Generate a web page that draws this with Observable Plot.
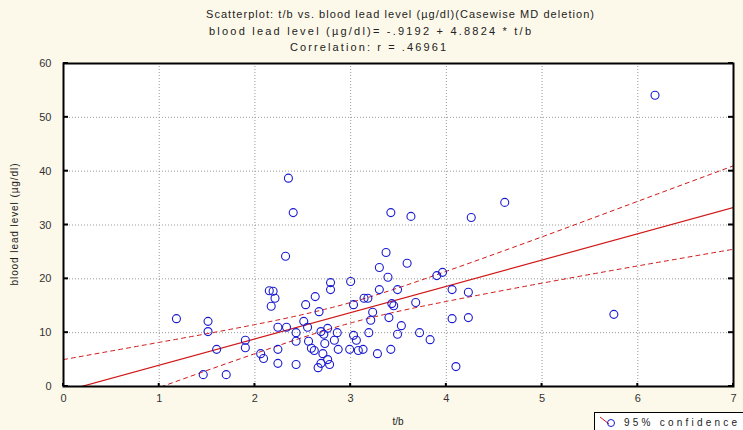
<!DOCTYPE html>
<html><head><meta charset="utf-8">
<script src="https://cdn.jsdelivr.net/npm/d3@7"></script>
<script src="https://cdn.jsdelivr.net/npm/@observablehq/plot@0.6"></script>
<style>
html,body{margin:0;padding:0;background:#fdf9ea;overflow:hidden;}
#chart svg{display:block;}
</style></head><body><div id="chart"></div>
<script>
// t/b values and blood lead levels (µg/dl)
const tb = [6.18,5.75,4.61,4.26,3.63,3.42,2.40,2.35,2.32,3.37,3.59,3.90,3.96,4.10,4.06,4.23,4.06,4.23,3.68,3.72,3.83,3.30,3.39,2.79,2.79,3.00,2.15,2.19,2.21,2.17,2.63,2.53,2.67,3.30,3.49,3.14,3.18,3.03,3.23,3.21,3.40,3.43,3.45,3.53,3.49,2.51,2.24,2.33,2.43,2.55,2.69,2.76,2.86,2.72,2.43,2.56,2.73,2.83,3.03,3.06,3.19,2.24,2.06,2.09,2.59,2.62,2.71,2.87,2.99,3.08,3.13,3.28,3.42,2.76,2.69,2.78,2.66,2.24,2.43,1.18,1.51,1.51,1.60,1.90,1.90,1.46,1.70];
const lead = [54.1,13.4,34.2,31.4,31.6,32.3,32.3,38.7,24.2,24.9,22.9,20.6,21.2,3.7,18.0,17.5,12.6,12.8,15.6,10.0,8.7,22.1,20.3,19.3,18.0,19.5,17.8,17.7,16.4,14.9,16.7,15.2,13.9,18.0,18.0,16.4,16.4,15.2,13.8,12.3,12.8,15.4,15.0,11.3,9.7,12.1,11.0,11.0,10.0,11.0,10.2,10.8,10.0,9.7,8.4,8.4,8.0,8.6,9.5,8.6,10.0,6.9,6.1,5.2,7.1,6.7,6.1,6.9,6.9,6.7,6.9,6.1,6.9,5.0,4.3,4.1,3.5,4.3,4.1,12.6,12.1,10.2,6.9,8.6,7.2,2.2,2.2];

// regression equation from the chart title
const intercept = -0.9192;
const slope = 4.8824;

// 95% confidence bounds at each integer t/b
const bandX = [0,1,2,3,4,5,6,7];
const bandUpper = [5.0,8.2,11.5,15.6,21.4,27.8,34.4,41.0];
const bandLower = [-6.8,-0.2,6.1,11.8,15.8,19.2,22.4,25.5];

const xTicks = [0,1,2,3,4,5,6,7];
const yTicks = [0,10,20,30,40,50,60];
const xGrid = [1,2,3,4,5,6];
const yGrid = [10,20,30,40,50];
const xDomain = [0,7];
const yDomain = [0,60];

const titleLines = [
  "Scatterplot: t/b vs. blood lead level (µg/dl)(Casewise MD deletion)",
  "blood lead level (µg/dl)= -.9192 + 4.8824 * t/b",
  "Correlation: r = .46961"
];
const xLabel = "t/b";
const yLabel = "blood lead level (µg/dl)";
const legendLabel = "95% confidence";

const points = tb.map((t, i) => ({t, lead: lead[i]}));
const fit = xDomain.map(t => ({t, y: intercept + slope * t}));
const band = bandX.map((t, i) => ({t, hi: bandUpper[i], lo: bandLower[i]}));

const font = "'Liberation Sans', Arial, sans-serif";
const red = "#d01818";
const blue = "#1a1ad0";

const chart = Plot.plot({
  width: 743,
  height: 430,
  marginLeft: 63,
  marginRight: 10,
  marginTop: 63,
  marginBottom: 44,
  style: {background: "#fdf9ea", fontFamily: font, fontSize: "11px", overflow: "visible"},
  x: {domain: xDomain, ticks: xTicks, label: null, tickFormat: "d"},
  y: {domain: yDomain, ticks: yTicks, label: null, tickFormat: "d"},
  marks: [
    Plot.frame({fill: "white"}),
    Plot.gridX(xGrid, {stroke: "#999", strokeOpacity: 1, strokeDasharray: "1,2"}),
    Plot.gridY(yGrid, {stroke: "#999", strokeOpacity: 1, strokeDasharray: "1,2"}),
    Plot.line(band, {x: "t", y: "hi", curve: "natural", stroke: red, strokeWidth: 1, strokeDasharray: "4,4", clip: true}),
    Plot.line(band, {x: "t", y: "lo", curve: "natural", stroke: red, strokeWidth: 1, strokeDasharray: "4,4", clip: true}),
    Plot.line(fit, {x: "t", y: "y", stroke: red, strokeWidth: 1.2, clip: true}),
    Plot.dot(points, {x: "t", y: "lead", r: 4, stroke: blue, strokeWidth: 1.1, fill: "none"}),
    Plot.frame({stroke: "black", strokeWidth: 2}),
    Plot.axisX({ticks: xTicks, tickSize: 0, tickPadding: 8, fill: "#333", label: null, tickFormat: "d"}),
    Plot.axisY({ticks: yTicks, tickSize: 0, tickPadding: 12, fill: "#333", label: null, tickFormat: "d"})
  ]
});

document.getElementById("chart").appendChild(chart);

const svg = d3.select(chart);
const xs = chart.scale("x"), ys = chart.scale("y");
const pxLeft = xs.apply(xDomain[0]), pxRight = xs.apply(xDomain[1]);
const pxBottom = ys.apply(yDomain[0]), pxTop = ys.apply(yDomain[1]);
const midX = (pxLeft + pxRight) / 2, midY = (pxTop + pxBottom) / 2;

// inward tick marks on left/right borders and bottom
const tg = svg.append("g").attr("stroke", "black").attr("stroke-width", 2);
yTicks.forEach(v => {
  const y = ys.apply(v);
  tg.append("line").attr("x1", pxLeft).attr("x2", pxLeft + 5).attr("y1", y).attr("y2", y);
  tg.append("line").attr("x1", pxRight).attr("x2", pxRight - 5).attr("y1", y).attr("y2", y);
});
xTicks.forEach(v => {
  const x = xs.apply(v);
  tg.append("line").attr("x1", x).attr("x2", x).attr("y1", pxBottom).attr("y2", pxBottom - 3);
});

// titles (stretched spacing like the reference's bitmap font)
const tt = svg.append("g").attr("font-family", font).attr("font-size", 11).attr("fill", "#222").attr("text-anchor", "middle");
const titleLayout = [
  {cx: midX + 2, y: 18, len: 388},
  {cx: midX - 28, y: 35, len: 322},
  {cx: midX - 30, y: 51, len: 156}
];
titleLines.forEach((s, i) => {
  const L = titleLayout[i];
  tt.append("text").attr("x", L.cx).attr("y", L.y).attr("textLength", L.len).attr("lengthAdjust", "spacing").text(s);
});

// axis titles
tt.append("text").attr("x", midX).attr("y", pxBottom + 39).attr("font-size", 10).text(xLabel);
tt.append("text").attr("transform", `translate(${pxLeft - 45},${midY}) rotate(-90)`).attr("font-size", 10)
  .attr("textLength", 122).attr("lengthAdjust", "spacing").text(yLabel);

// legend box (bottom right)
const lg = svg.append("g").attr("font-family", font).attr("font-size", 10).attr("text-anchor", "start");
lg.append("rect").attr("x", 594.5).attr("y", 412.5).attr("width", 152).attr("height", 22)
  .attr("fill", "white").attr("stroke", "black");
lg.append("line").attr("x1", 600).attr("y1", 417).attr("x2", 609).attr("y2", 424).attr("stroke", red);
lg.append("circle").attr("cx", 611).attr("cy", 423).attr("r", 3.5).attr("fill", "none").attr("stroke", blue);
lg.append("text").attr("x", 624).attr("y", 426).attr("fill", "#222").attr("textLength", 113).attr("lengthAdjust", "spacing").text(legendLabel);
</script></body></html>
